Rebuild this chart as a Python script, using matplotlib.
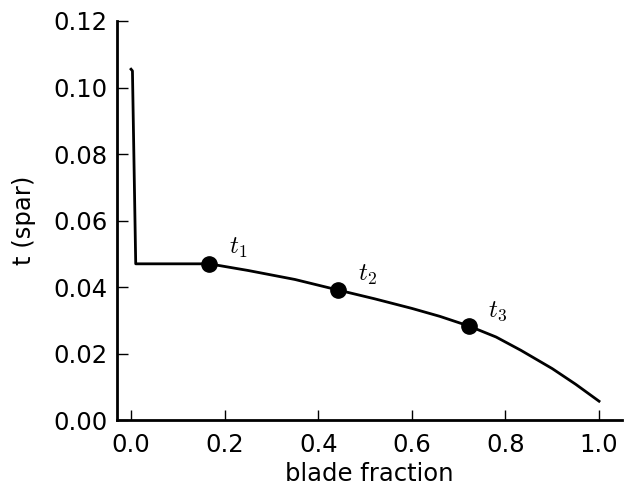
import matplotlib
matplotlib.use("Agg")
import matplotlib.pyplot as plt
import numpy as np

plt.rcParams["mathtext.fontset"] = "cm"

# spar thickness along the blade
blade_frac = [0.0, 0.003, 0.01, 0.167, 0.25, 0.35, 0.443, 0.52, 0.60, 0.66, 0.722, 0.78, 0.833, 0.90, 0.95, 1.0]
t_spar = [0.1055, 0.105, 0.047, 0.047, 0.0450, 0.0423, 0.0391, 0.0365, 0.0336, 0.0312, 0.0283, 0.0250, 0.0210, 0.0155, 0.0108, 0.0057]

# control points
cp_x = [0.167, 0.443, 0.722]
cp_y = [0.047, 0.0391, 0.0283]
cp_labels = [r"$t_1$", r"$t_2$", r"$t_3$"]

fig = plt.figure(figsize=(6.24, 4.88), dpi=100)
ax = fig.add_axes([0.1875, 0.139, 0.81, 0.818])

ax.plot(blade_frac, t_spar, color="k", lw=2)
ax.plot(cp_x, cp_y, "o", color="k", ms=11)
for x, y, lab in zip(cp_x, cp_y, cp_labels):
    ax.annotate(lab, (x, y), xytext=(14, 7), textcoords="offset points", fontsize=18)

ax.set_xlim(-0.03, 1.05)
ax.set_ylim(0, 0.12)
ax.set_xticks([0.0, 0.2, 0.4, 0.6, 0.8, 1.0])
ax.set_yticks([0.0, 0.02, 0.04, 0.06, 0.08, 0.10, 0.12])
ax.set_xticklabels(["0.0", "0.2", "0.4", "0.6", "0.8", "1.0"])
ax.set_yticklabels(["0.00", "0.02", "0.04", "0.06", "0.08", "0.10", "0.12"])

ax.spines["top"].set_visible(False)
ax.spines["right"].set_visible(False)
ax.spines["left"].set_linewidth(2)
ax.spines["bottom"].set_linewidth(2)
ax.tick_params(axis="x", direction="in", length=7, width=1, labelsize=17.5, pad=9)
ax.tick_params(axis="y", direction="in", length=8, width=1, labelsize=17.5, pad=7)

ax.set_xlabel("blade fraction", fontsize=17.5, labelpad=4)
ax.set_ylabel("t (spar)", fontsize=17.5, labelpad=12)

fig.savefig("out.png", dpi=100)
